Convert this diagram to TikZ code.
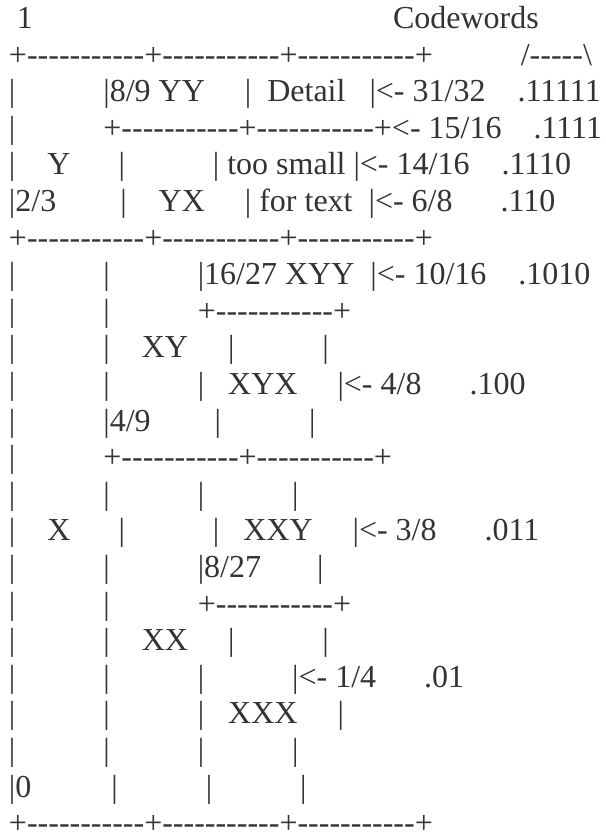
\documentclass[tikz,border=0pt]{standalone}
\usepackage{fontspec}
\newfontfamily\ascfont{Liberation Serif}[Ligatures=TeXOff]
\definecolor{txt}{RGB}{51,51,51}
\newcommand\spc[1]{\hspace*{#1\fontdimen2\font}}
\tikzset{
  asciirow/.style={anchor=base west, inner sep=0pt, outer sep=0pt,
    font=\ascfont\fontsize{32}{36.6}\selectfont, text=txt},
}
\begin{document}
\begin{tikzpicture}[x=1pt,y=1pt]
\fill[white] (0,0) rectangle (605,-840);
\path[use as bounding box] (0,0) rectangle (605,-840);
\def\lx{9}
\def\ly{28.5}
\def\lh{36.6}
\node[asciirow] (r1)  at (\lx,{-\ly-0*\lh})  {\spc{1}1\spc{45}Codewords};
\node[asciirow] (r2)  at (\lx,{-\ly-1*\lh})  {+-----------+-----------+-----------+\spc{11}/-----\textbackslash};
\node[asciirow] (r3)  at (\lx,{-\ly-2*\lh})  {|\spc{11}|8/9 YY\spc{5}|\spc{2}Detail\spc{3}|<- 31/32\spc{4}.11111};
\node[asciirow] (r4)  at (\lx,{-\ly-3*\lh})  {|\spc{11}+-----------+-----------+<- 15/16\spc{4}.1111};
\node[asciirow] (r5)  at (\lx,{-\ly-4*\lh})  {|\spc{4}Y\spc{6}|\spc{11}|\spc{1}too small\spc{1}|<- 14/16\spc{4}.1110};
\node[asciirow] (r6)  at (\lx,{-\ly-5*\lh})  {|2/3\spc{8}|\spc{4}YX\spc{5}|\spc{1}for text\spc{2}|<- 6/8\spc{6}.110};
\node[asciirow] (r7)  at (\lx,{-\ly-6*\lh})  {+-----------+-----------+-----------+};
\node[asciirow] (r8)  at (\lx,{-\ly-7*\lh})  {|\spc{11}|\spc{11}|16/27 XYY\spc{2}|<- 10/16\spc{4}.1010};
\node[asciirow] (r9)  at (\lx,{-\ly-8*\lh})  {|\spc{11}|\spc{11}+-----------+};
\node[asciirow] (r10) at (\lx,{-\ly-9*\lh})  {|\spc{11}|\spc{4}XY\spc{5}|\spc{11}|};
\node[asciirow] (r11) at (\lx,{-\ly-10*\lh}) {|\spc{11}|\spc{11}|\spc{3}XYX\spc{5}|<- 4/8\spc{6}.100};
\node[asciirow] (r12) at (\lx,{-\ly-11*\lh}) {|\spc{11}|4/9\spc{8}|\spc{11}|};
\node[asciirow] (r13) at (\lx,{-\ly-12*\lh}) {|\spc{11}+-----------+-----------+};
\node[asciirow] (r14) at (\lx,{-\ly-13*\lh}) {|\spc{11}|\spc{11}|\spc{11}|};
\node[asciirow] (r15) at (\lx,{-\ly-14*\lh}) {|\spc{4}X\spc{6}|\spc{11}|\spc{3}XXY\spc{5}|<- 3/8\spc{6}.011};
\node[asciirow] (r16) at (\lx,{-\ly-15*\lh}) {|\spc{11}|\spc{11}|8/27\spc{7}|};
\node[asciirow] (r17) at (\lx,{-\ly-16*\lh}) {|\spc{11}|\spc{11}+-----------+};
\node[asciirow] (r18) at (\lx,{-\ly-17*\lh}) {|\spc{11}|\spc{4}XX\spc{5}|\spc{11}|};
\node[asciirow] (r19) at (\lx,{-\ly-18*\lh}) {|\spc{11}|\spc{11}|\spc{11}|<- 1/4\spc{6}.01};
\node[asciirow] (r20) at (\lx,{-\ly-19*\lh}) {|\spc{11}|\spc{11}|\spc{3}XXX\spc{5}|};
\node[asciirow] (r21) at (\lx,{-\ly-20*\lh}) {|\spc{11}|\spc{11}|\spc{11}|};
\node[asciirow] (r22) at (\lx,{-\ly-21*\lh}) {|0\spc{10}|\spc{11}|\spc{11}|};
\node[asciirow] (r23) at (\lx,{-\ly-22*\lh}) {+-----------+-----------+-----------+};
\end{tikzpicture}
\end{document}
